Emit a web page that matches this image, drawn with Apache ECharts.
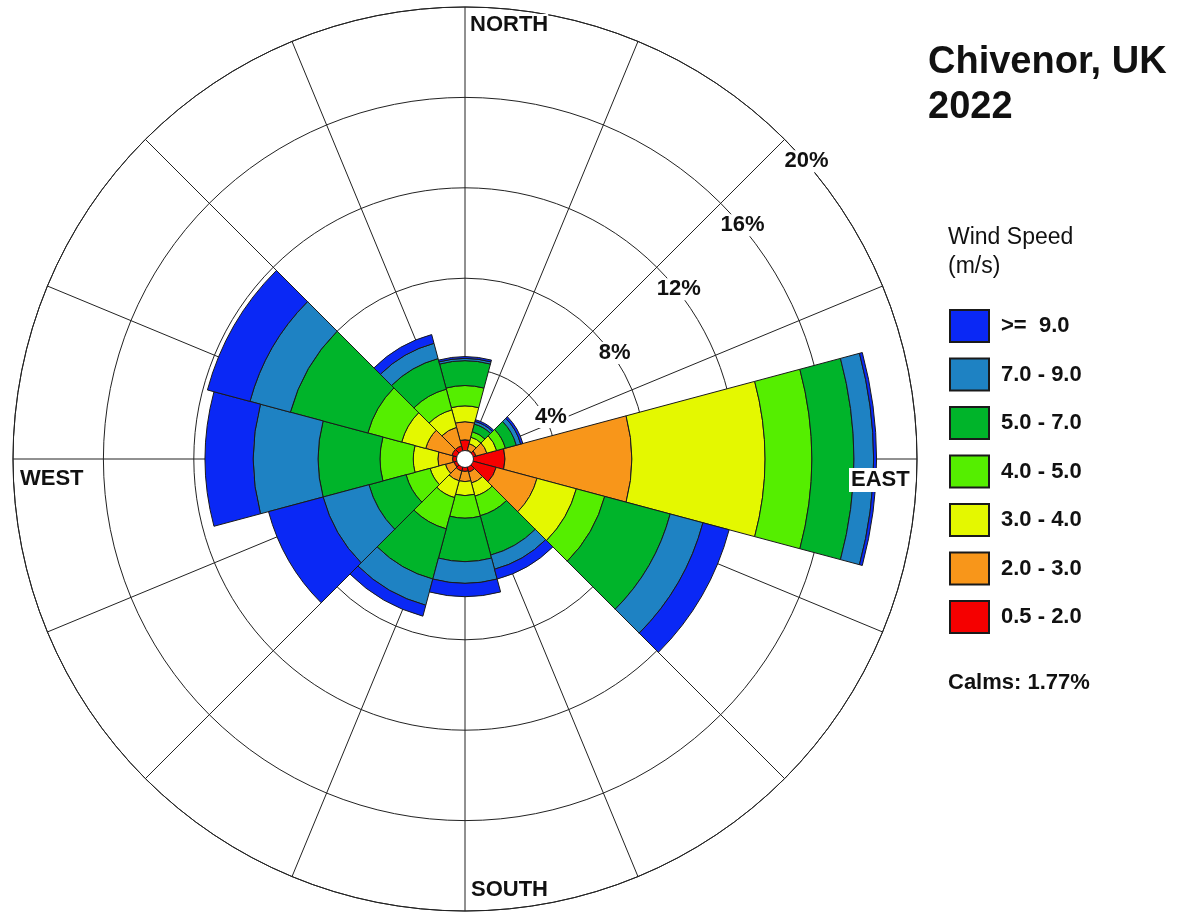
<!DOCTYPE html>
<html>
<head>
<meta charset="utf-8">
<title>Chivenor, UK 2022</title>
<script src="https://cdn.jsdelivr.net/npm/echarts@6/dist/echarts.min.js"></script>
<style>
html, body { margin: 0; padding: 0; background: #fff; }
#container_rose { width: 1184px; height: 913px; }
</style>
</head>
<body>
<div id="container_rose"></div>
<script>
//方向(12个扇区, 每个30度)
var directions = ['0', '30', '60', '90', '120', '150', '180', '210', '240', '270', '300', '330'];
//风速分级, 由内到外
var speedClasses = ['0.5 - 2.0', '2.0 - 3.0', '3.0 - 4.0', '4.0 - 5.0', '5.0 - 7.0', '7.0 - 9.0', '>=  9.0'];
var speedColors = ['#F50000', '#F8961A', '#E4F800', '#55EE00', '#00B42A', '#1E82C3', '#0A28F5'];
//各分级频率(%)
var s05_2 = [0.85, 0.40, 0.50, 1.77, 1.43, 0.60, 0.55, 0.55, 0.50, 0.55, 0.60, 0.60];
var s2_3  = [0.80, 0.30, 0.50, 5.61, 1.87, 0.50, 0.45, 0.45, 0.40, 0.65, 1.20, 0.85];
var s3_4  = [0.70, 0.30, 0.45, 5.89, 1.80, 0.60, 0.62, 0.77, 0.70, 1.09, 1.10, 0.80];
var s4_5  = [0.90, 0.25, 0.40, 2.07, 1.30, 0.90, 1.00, 1.43, 1.10, 1.47, 1.55, 0.95];
var s5_7  = [1.10, 0.35, 0.50, 1.86, 3.00, 1.80, 1.92, 2.30, 1.70, 2.74, 3.55, 1.40];
var s7_9  = [0.10, 0.12, 0.20, 0.87, 1.50, 0.65, 0.96, 1.20, 2.10, 2.87, 1.85, 0.70];
var s9    = [0.08, 0.08, 0.10, 0.13, 1.20, 0.45, 0.59, 0.50, 2.50, 2.13, 1.95, 0.40];
//圆环刻度
var ringMax = 20;
var ringStep = 4;
var calms = 1.77;

var fontName = '"Liberation Sans", Arial, sans-serif';

initChart_rose("container_rose");

/**
 * 风玫瑰图
 * @param selector
 */
function initChart_rose(selector) {
	var dom = document.getElementById(selector);
	var myChart = echarts.init(dom);
	var cx = 465, cy = 459, r = 452;
	var seriesData = [s05_2, s2_3, s3_4, s4_5, s5_7, s7_9, s9];
	var series = [];
	for (var i = 0; i < speedClasses.length; i++) {
		series.push({
			name: speedClasses[i],
			type: 'bar',
			coordinateSystem: 'polar',
			polarIndex: 1,
			stack: 'speed',
			barCategoryGap: '0%',
			silent: true,
			data: seriesData[i],
			itemStyle: { color: speedColors[i], borderColor: '#1a1a1a', borderWidth: 1 }
		});
	}
	//图例从外到内
	var legendData = speedClasses.slice().reverse();

	option = {
		animation: false,
		backgroundColor: '#fff',
		title: [
			{ text: 'Chivenor, UK\n2022', left: 928, top: 40, padding: 0,
			  textStyle: { fontFamily: fontName, fontSize: 38, fontWeight: 'bold', color: '#111', lineHeight: 45 } },
			{ text: 'Wind Speed\n(m/s)', left: 948, top: 223, padding: 0,
			  textStyle: { fontFamily: fontName, fontSize: 23, fontWeight: 'normal', color: '#111', lineHeight: 29 } },
			{ text: 'Calms: ' + calms + '%', left: 948, top: 672, padding: 0,
			  textStyle: { fontFamily: fontName, fontSize: 22, fontWeight: 'bold', color: '#111' } }
		],
		legend: {
			orient: 'vertical',
			left: 949,
			top: 309,
			padding: 0,
			itemWidth: 39,
			itemHeight: 32,
			itemGap: 14.5,
			icon: 'rect',
			selectedMode: false,
			data: legendData,
			textStyle: { fontFamily: fontName, fontSize: 22, fontWeight: 'bold', color: '#111', padding: [0, 0, 0, 7] }
		},
		polar: [
			{ center: [cx, cy], radius: [0, r] },
			{ center: [cx, cy], radius: [0, r] },
			{ center: [cx, cy], radius: [0, r] }
		],
		angleAxis: [
			{
				//网格线
				polarIndex: 0, type: 'value', min: 0, max: 360, interval: 22.5,
				startAngle: 90, clockwise: true,
				axisLine: { show: true, lineStyle: { color: '#222', width: 1 } },
				axisTick: { show: false }, axisLabel: { show: false },
				splitLine: { show: true, lineStyle: { color: '#222', width: 1 } }
			},
			{
				//柱子
				polarIndex: 1, type: 'category', data: directions,
				startAngle: 105, clockwise: true, show: false
			},
			{
				//百分比标签
				polarIndex: 2, type: 'value', min: 0, max: 360,
				startAngle: 45, show: false
			}
		],
		radiusAxis: [
			{
				polarIndex: 0, min: 0, max: ringMax, interval: ringStep,
				axisLine: { show: false }, axisTick: { show: false }, axisLabel: { show: false },
				splitLine: { show: true, lineStyle: { color: '#222', width: 1 } }
			},
			{
				polarIndex: 1, min: 0, max: ringMax, show: false
			},
			{
				polarIndex: 2, min: 0, max: ringMax, interval: ringStep,
				axisLine: { show: false }, axisTick: { show: false }, splitLine: { show: false },
				axisLabel: {
					show: true, showMinLabel: false, margin: -31,
					align: 'center', verticalAlign: 'middle',
					formatter: '{value}%',
					fontFamily: fontName, fontSize: 22, fontWeight: 'bold', color: '#111',
					backgroundColor: '#fff', padding: [0, 2]
				}
			}
		],
		graphic: [
			{ type: 'circle', shape: { cx: cx, cy: cy, r: 8.5 }, z: 50,
			  style: { fill: '#fff', stroke: '#222', lineWidth: 1 } },
			{ type: 'text', left: 470, top: 14, z: 60,
			  style: { text: 'NORTH', font: 'bold 22px ' + fontName, fill: '#111', backgroundColor: '#fff' } },
			{ type: 'text', left: 849, top: 468, z: 60,
			  style: { text: 'EAST', font: 'bold 22px ' + fontName, fill: '#111', backgroundColor: '#fff', padding: [1, 2] } },
			{ type: 'text', left: 471, top: 879, z: 60,
			  style: { text: 'SOUTH', font: 'bold 22px ' + fontName, fill: '#111', backgroundColor: '#fff' } },
			{ type: 'text', left: 20, top: 468, z: 60,
			  style: { text: 'WEST', font: 'bold 22px ' + fontName, fill: '#111', backgroundColor: '#fff' } }
		],
		series: series
	};
	if (option && typeof option === "object") {
		myChart.setOption(option, true);
	}
}
</script>
</body>
</html>
